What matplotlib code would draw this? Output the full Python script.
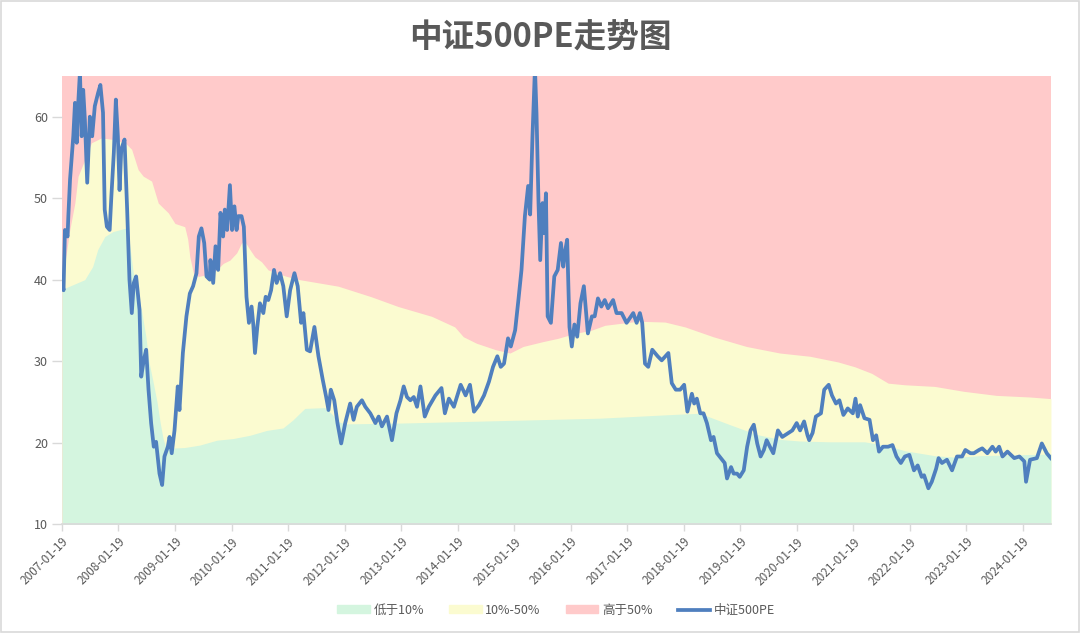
import matplotlib
matplotlib.use("Agg")
import matplotlib.pyplot as plt
import matplotlib.patches as mpatches
from matplotlib.lines import Line2D
import pandas as pd

plt.rcParams['font.family'] = ['Noto Sans CJK SC', 'DejaVu Sans']

TITLE = "中证500PE走势图"
SERIES_NAMES = ["低于10%", "10%-50%", "高于50%", "中证500PE"]
Y_TICKS = [10, 20, 30, 40, 50, 60]
X_TICK_LABELS = ["2007-01-19", "2008-01-19", "2009-01-19", "2010-01-19", "2011-01-19",
                 "2012-01-19", "2013-01-19", "2014-01-19", "2015-01-19", "2016-01-19",
                 "2017-01-19", "2018-01-19", "2019-01-19", "2020-01-19", "2021-01-19",
                 "2022-01-19", "2023-01-19", "2024-01-19"]
X_END = "2024-07-18"
RED_TOP = 65

# PE line
pe_dates = ["2007-01-19", "2007-01-29", "2007-02-07", "2007-02-24", "2007-03-01", "2007-03-12",
            "2007-04-02", "2007-04-13", "2007-04-24", "2007-05-04", "2007-05-15", "2007-05-26",
            "2007-06-05", "2007-06-16", "2007-07-01", "2007-07-18", "2007-08-02", "2007-08-19",
            "2007-09-09", "2007-09-24", "2007-10-11", "2007-10-22", "2007-11-05", "2007-11-23",
            "2007-12-04", "2007-12-20", "2008-01-02", "2008-01-15", "2008-01-26", "2008-02-06",
            "2008-02-27", "2008-03-15", "2008-03-30", "2008-04-14", "2008-04-27", "2008-05-12",
            "2008-06-03", "2008-06-14", "2008-06-30", "2008-07-16", "2008-07-31", "2008-08-17",
            "2008-09-03", "2008-09-18", "2008-10-10", "2008-10-27", "2008-11-11", "2008-12-03",
            "2008-12-14", "2008-12-28", "2009-01-15", "2009-02-05", "2009-02-16", "2009-03-10",
            "2009-04-02", "2009-04-24", "2009-05-15", "2009-06-06", "2009-06-21", "2009-07-08",
            "2009-07-26", "2009-08-10", "2009-08-31", "2009-09-04", "2009-09-22", "2009-10-07",
            "2009-10-24", "2009-11-08", "2009-11-25", "2009-12-06", "2009-12-21", "2010-01-08",
            "2010-01-22", "2010-02-06", "2010-02-20", "2010-03-03", "2010-03-24", "2010-04-08",
            "2010-04-25", "2010-05-11", "2010-05-28", "2010-06-08", "2010-06-19", "2010-07-04",
            "2010-07-21", "2010-08-12", "2010-08-27", "2010-09-13", "2010-10-01", "2010-10-20",
            "2010-11-06", "2010-11-28", "2010-12-19", "2011-01-10", "2011-02-01", "2011-03-01",
            "2011-03-22", "2011-04-13", "2011-04-28", "2011-05-20", "2011-06-10", "2011-07-08",
            "2011-08-03", "2011-08-31", "2011-09-22", "2011-10-07", "2011-10-22", "2011-11-13",
            "2011-12-04", "2011-12-28", "2012-01-23", "2012-02-24", "2012-03-17", "2012-04-07",
            "2012-05-10", "2012-06-01", "2012-07-03", "2012-08-05", "2012-08-26", "2012-09-16",
            "2012-10-19", "2012-11-20", "2012-12-19", "2013-01-14", "2013-02-04", "2013-02-25",
            "2013-03-19", "2013-04-10", "2013-05-01", "2013-05-23", "2013-06-20", "2013-07-16",
            "2013-08-28", "2013-10-06", "2013-10-28", "2013-11-23", "2013-12-25", "2014-02-07",
            "2014-03-11", "2014-04-08", "2014-05-04", "2014-06-05", "2014-07-08", "2014-08-09",
            "2014-09-04", "2014-10-02", "2014-10-24", "2014-11-14", "2014-12-10", "2014-12-28",
            "2015-01-25", "2015-02-15", "2015-03-07", "2015-03-29", "2015-04-19", "2015-05-02",
            "2015-05-17", "2015-06-02", "2015-06-12", "2015-06-25", "2015-07-06", "2015-07-21",
            "2015-08-01", "2015-08-12", "2015-08-23", "2015-09-13", "2015-10-05", "2015-10-27",
            "2015-11-17", "2015-12-02", "2015-12-14", "2015-12-27", "2016-01-11", "2016-01-26",
            "2016-02-12", "2016-03-01", "2016-03-22", "2016-04-13", "2016-05-09", "2016-06-04",
            "2016-06-22", "2016-07-13", "2016-08-04", "2016-08-26", "2016-09-16", "2016-10-19",
            "2016-11-10", "2016-12-13", "2017-01-14", "2017-02-26", "2017-03-20", "2017-04-10",
            "2017-04-25", "2017-05-13", "2017-06-03", "2017-06-29", "2017-08-03", "2017-08-29",
            "2017-10-11", "2017-11-02", "2017-11-28", "2017-12-26", "2018-01-21", "2018-02-11",
            "2018-03-12", "2018-03-27", "2018-04-13", "2018-05-05", "2018-05-26", "2018-06-17",
            "2018-07-13", "2018-07-30", "2018-08-21", "2018-09-23", "2018-10-10", "2018-10-25",
            "2018-11-20", "2018-12-07", "2018-12-29", "2019-01-15", "2019-02-10", "2019-03-04",
            "2019-03-26", "2019-04-16", "2019-05-08", "2019-05-30", "2019-06-20", "2019-07-08",
            "2019-07-29", "2019-08-20", "2019-09-19", "2019-10-17", "2019-11-19", "2019-12-21",
            "2020-01-18", "2020-02-09", "2020-03-06", "2020-03-28", "2020-04-08", "2020-04-30",
            "2020-05-21", "2020-06-23", "2020-07-14", "2020-08-12", "2020-09-02", "2020-09-28",
            "2020-10-20", "2020-11-15", "2020-12-13", "2021-01-15", "2021-02-01", "2021-02-16",
            "2021-03-03", "2021-03-31", "2021-05-03", "2021-05-25", "2021-06-15", "2021-07-03",
            "2021-07-29", "2021-08-31", "2021-09-28", "2021-10-24", "2021-11-21", "2021-12-17",
            "2022-01-15", "2022-02-14", "2022-03-10", "2022-04-05", "2022-04-20", "2022-05-18",
            "2022-06-09", "2022-07-07", "2022-07-23", "2022-08-14", "2022-09-15", "2022-10-18",
            "2022-11-19", "2022-12-22", "2023-01-12", "2023-02-14", "2023-03-08", "2023-04-10",
            "2023-05-01", "2023-06-03", "2023-07-06", "2023-07-27", "2023-08-18", "2023-09-09",
            "2023-10-11", "2023-11-24", "2023-12-27", "2024-01-28", "2024-02-08", "2024-03-05",
            "2024-04-18", "2024-05-20", "2024-06-21", "2024-07-17"]
pe_values = [40.0, 38.7, 46.1, 45.3, 47.8, 52.3,
             57.6, 61.7, 56.8, 61.7, 65.5, 57.6,
             63.3, 59.6, 51.9, 60.0, 57.6, 61.3,
             62.9, 63.9, 60.5, 48.6, 46.5, 46.1,
             50.2, 55.6, 62.1, 57.6, 51.0, 56.0,
             57.2, 48.6, 40.0, 35.9, 39.6, 40.4,
             36.3, 28.1, 30.1, 31.4, 26.5, 22.4,
             19.5, 20.1, 16.2, 14.8, 18.3, 19.5,
             20.7, 18.7, 21.5, 26.9, 24.0, 31.0,
             35.5, 38.3, 39.2, 40.8, 45.3, 46.3,
             44.5, 40.4, 40.0, 42.4, 39.6, 44.1,
             41.2, 48.2, 45.3, 48.6, 46.1, 51.6,
             46.1, 49.0, 46.1, 47.8, 47.8, 46.5,
             37.9, 34.7, 36.7, 34.5, 31.0, 34.2,
             37.1, 35.9, 37.9, 37.5, 38.7, 41.2,
             39.6, 40.8, 39.2, 35.5, 38.7, 40.8,
             39.2, 34.7, 35.9, 31.4, 31.2, 34.2,
             30.6, 27.7, 25.6, 24.0, 26.5, 25.2,
             22.4, 19.9, 22.4, 24.8, 22.8, 24.4,
             25.2, 24.4, 23.6, 22.4, 23.2, 22.0,
             23.2, 20.3, 23.6, 25.2, 26.9, 25.6,
             25.2, 25.6, 24.4, 26.9, 23.2, 24.4,
             25.8, 26.7, 23.6, 25.4, 24.4, 27.1,
             25.8, 27.1, 23.8, 24.6, 25.8, 27.5,
             29.3, 30.6, 29.3, 29.7, 32.8, 31.8,
             33.8, 37.5, 41.2, 47.8, 51.5, 48.0,
             57.6, 66.0, 60.4, 49.4, 42.4, 49.4,
             45.7, 50.6, 35.5, 34.7, 40.4, 41.2,
             44.5, 41.6, 43.5, 44.9, 34.2, 31.8,
             34.5, 33.0, 37.1, 39.2, 33.4, 35.5,
             35.5, 37.7, 36.7, 37.5, 36.5, 37.5,
             35.9, 35.9, 34.7, 35.9, 34.7, 35.9,
             34.7, 29.7, 29.3, 31.4, 30.6, 30.1,
             31.0, 27.3, 26.5, 26.5, 27.1, 23.8,
             26.0, 24.8, 25.4, 23.6, 23.6, 22.4,
             20.3, 20.7, 18.7, 17.9, 17.5, 15.6,
             17.0, 16.2, 16.2, 15.8, 16.6, 19.5,
             21.5, 22.2, 19.9, 18.3, 19.1, 20.3,
             19.5, 18.7, 21.5, 20.7, 21.1, 21.5,
             22.4, 21.5, 22.6, 20.9, 20.3, 21.2,
             23.2, 23.6, 26.5, 27.1, 25.8, 24.8,
             25.2, 23.4, 24.2, 23.6, 25.4, 23.2,
             24.6, 23.0, 22.8, 20.3, 20.9, 18.9,
             19.5, 19.5, 19.7, 18.3, 17.5, 18.3,
             18.5, 16.6, 17.2, 15.8, 16.0, 14.4,
             15.2, 16.8, 18.1, 17.5, 17.9, 16.6,
             18.3, 18.3, 19.1, 18.7, 18.7, 19.1,
             19.3, 18.7, 19.5, 18.9, 19.5, 18.3,
             18.9, 18.1, 18.3, 17.7, 15.2, 17.9,
             18.1, 19.9, 18.7, 18.1]

# 10th percentile band top
p10_dates = ["2007-01-19", "2007-06-15", "2007-08-05", "2007-09-07", "2007-10-23", "2007-12-14",
             "2008-03-02", "2008-03-20", "2008-04-22", "2008-05-23", "2008-06-18", "2008-07-14",
             "2008-08-02", "2008-08-29", "2008-09-24", "2008-10-14", "2008-11-02", "2008-11-22",
             "2009-03-22", "2009-06-27", "2009-10-16", "2010-01-28", "2010-05-17", "2010-09-03",
             "2010-12-17", "2011-02-20", "2011-04-04", "2011-05-07", "2011-09-13", "2011-10-29",
             "2011-12-07", "2012-01-21", "2013-01-11", "2014-10-18", "2016-07-25", "2017-12-25",
             "2018-05-02", "2018-11-13", "2019-05-05", "2019-10-01", "2020-02-08", "2020-08-20",
             "2021-04-02", "2021-08-29", "2021-12-18", "2022-06-28", "2022-11-18", "2023-04-15",
             "2023-11-15", "2024-07-18"]
p10_values = [38.8, 40.0, 41.6, 43.7, 45.3, 45.9,
              46.3, 46.0, 41.0, 38.5, 36.0, 33.0,
              30.0, 27.5, 25.0, 22.5, 20.5, 19.3,
              19.4, 19.7, 20.3, 20.5, 20.9, 21.5,
              21.8, 22.8, 23.6, 24.2, 24.3, 23.5,
              22.6, 22.3, 22.4, 22.7, 23.0, 23.5,
              23.6, 22.2, 21.0, 20.4, 20.2, 20.1,
              20.1, 19.6, 19.0, 18.4, 18.2, 18.4,
              18.5, 18.6]

# 50th percentile band top
p50_dates = ["2007-01-19", "2007-02-14", "2007-03-10", "2007-04-12", "2007-05-03", "2007-06-15",
             "2007-07-28", "2007-10-01", "2007-12-17", "2008-03-02", "2008-04-13", "2008-05-25",
             "2008-06-27", "2008-08-20", "2008-10-02", "2008-12-06", "2009-01-18", "2009-03-22",
             "2009-04-10", "2009-04-24", "2009-05-17", "2009-06-19", "2009-08-10", "2009-10-14",
             "2009-11-26", "2010-01-08", "2010-02-21", "2010-03-24", "2010-04-14", "2010-05-17",
             "2010-06-18", "2010-07-31", "2010-09-12", "2010-11-06", "2011-01-10", "2011-04-04",
             "2011-06-06", "2011-12-09", "2012-07-10", "2012-12-31", "2013-08-04", "2013-12-31",
             "2014-02-24", "2014-05-20", "2014-09-22", "2014-12-23", "2015-03-17", "2015-07-24",
             "2015-10-28", "2016-02-15", "2016-06-01", "2016-08-27", "2017-03-30", "2017-09-19",
             "2018-01-27", "2018-07-27", "2019-02-28", "2019-10-01", "2020-04-13", "2020-10-12",
             "2021-01-29", "2021-05-17", "2021-08-31", "2021-12-18", "2022-06-28", "2023-01-01",
             "2023-07-31", "2024-03-05", "2024-07-18"]
p50_values = [39.6, 43.0, 46.1, 49.4, 52.7, 54.7,
              56.8, 57.4, 57.2, 56.8, 56.0, 53.5,
              52.7, 52.1, 49.4, 48.2, 46.9, 46.5,
              45.0, 42.8, 40.8, 40.4, 40.6, 41.2,
              42.0, 42.4, 43.3, 44.5, 44.7, 43.7,
              42.8, 42.2, 41.2, 40.8, 40.4, 40.0,
              39.8, 39.2, 37.9, 36.7, 35.5, 34.2,
              33.0, 32.2, 31.4, 31.0, 31.8, 32.4,
              32.8, 33.4, 33.8, 34.4, 34.9, 34.8,
              34.2, 33.0, 31.8, 31.0, 30.6, 29.9,
              29.3, 28.5, 27.3, 27.1, 26.9, 26.3,
              25.8, 25.6, 25.4]

GREEN = "#d4f5df"
YELLOW = "#fbfbd0"
RED = "#ffcaca"
BLUE = "#4f7fbe"
TEXT = "#595959"
AXIS = "#d9d9d9"

pe_x = pd.to_datetime(pe_dates)
p10_x = pd.to_datetime(p10_dates)
p50_x = pd.to_datetime(p50_dates)

fig = plt.figure(figsize=(10.8, 6.33), dpi=100)
ax = fig.add_axes([0.0574, 0.172, 0.9157, 0.708])

ax.fill_between(p50_x, 0, [RED_TOP] * len(p50_x), color=RED, lw=0, zorder=1)
ax.fill_between(p50_x, 0, p50_values, color=YELLOW, lw=0, zorder=2)
ax.fill_between(p10_x, 0, p10_values, color=GREEN, lw=0, zorder=3)
ax.plot(pe_x, pe_values, color=BLUE, lw=2.7, zorder=4, solid_joinstyle='round')

ax.set_ylim(10, 65)
ax.set_xlim(pd.Timestamp(X_TICK_LABELS[0]), pd.Timestamp(X_END))
ax.set_yticks(Y_TICKS)
ax.set_xticks(pd.to_datetime(X_TICK_LABELS))
ax.set_xticklabels(X_TICK_LABELS, rotation=45, ha='right', rotation_mode='anchor')

for s in ["top", "right", "left"]:
    ax.spines[s].set_visible(False)
ax.spines["bottom"].set_color(AXIS)
ax.spines["bottom"].set_linewidth(1.2)
ax.spines["bottom"].set_zorder(5)
ax.tick_params(axis='x', colors=AXIS, labelcolor=TEXT, labelsize=8.5, length=5, width=1, pad=3)
ax.tick_params(axis='y', colors=AXIS, labelcolor=TEXT, labelsize=9, length=7, width=1, pad=3)
ax.set_facecolor("white")

fig.text(0.5, 0.94, TITLE, ha='center', va='center', fontsize=23.5, color=TEXT, fontweight='semibold')

handles = [mpatches.Patch(color=GREEN, label=SERIES_NAMES[0]),
           mpatches.Patch(color=YELLOW, label=SERIES_NAMES[1]),
           mpatches.Patch(color=RED, label=SERIES_NAMES[2]),
           Line2D([0], [0], color=BLUE, lw=2.7, label=SERIES_NAMES[3])]
fig.legend(handles=handles, loc='center', bbox_to_anchor=(0.515, 0.036), ncol=4, frameon=False,
           fontsize=9, labelcolor=TEXT, handlelength=2.6, handleheight=0.6, columnspacing=2.0,
           handletextpad=0.3)

fig.patches.append(mpatches.Rectangle((0.001, 0.001), 0.998, 0.998, transform=fig.transFigure,
                                      fill=False, edgecolor=AXIS, lw=1.2))

fig.savefig("out.png", dpi=100)
